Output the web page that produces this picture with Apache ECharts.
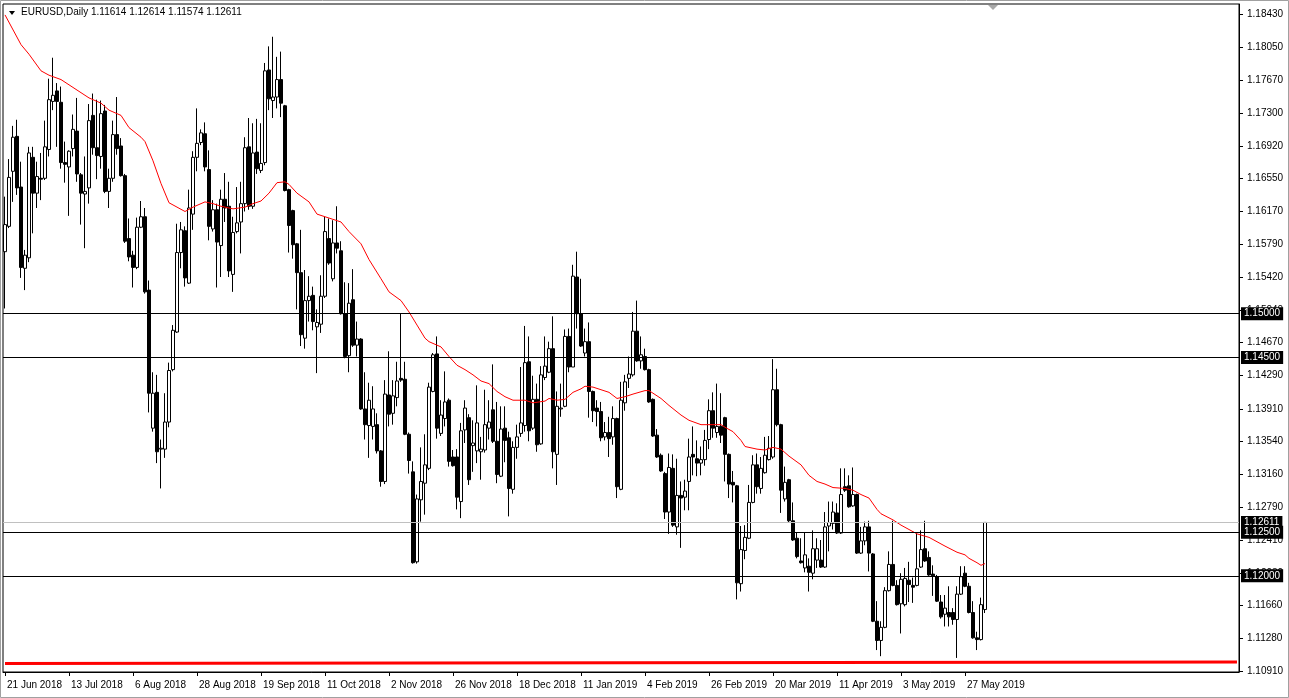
<!DOCTYPE html>
<html>
<head>
<meta charset="utf-8">
<script src="https://cdn.jsdelivr.net/npm/echarts@6/dist/echarts.min.js"></script>
<style>
html,body{margin:0;padding:0;background:#fff;}
#c{width:1289px;height:698px;}
</style>
</head>
<body>
<div id="c"></div>
<script>
// ---- data (EURUSD daily, 21 Jun 2018 .. 3 Jun 2019) ----
const opens = [
1.1571,1.1600,1.1663,1.1703,1.1645,1.1552,1.1564,1.1679,1.1638,1.1655,
1.1655,1.1688,1.1743,1.1755,1.1742,1.1673,1.1668,1.1689,1.1709,1.1659,
1.1637,1.1644,1.1727,1.1690,1.1680,1.1732,1.1640,1.1655,1.1705,1.1692,
1.1658,1.1586,1.1567,1.1553,1.1599,1.1611,1.1527,1.1369,1.1410,1.1345,
1.1345,1.1376,1.1436,1.1479,1.1570,1.1595,1.1535,1.1614,1.1679,1.1696,
1.1706,1.1665,1.1597,1.1619,1.1578,1.1631,1.1623,1.1545,1.1594,1.1605,
1.1626,1.1691,1.1623,1.1685,1.1664,1.1673,1.1779,1.1744,1.1748,1.1768,
1.1738,1.1642,1.1618,1.1580,1.1547,1.1472,1.1515,1.1521,1.1485,1.1488,
1.1520,1.1586,1.1540,1.1581,1.1572,1.1500,1.1452,1.1516,1.1464,1.1471,
1.1391,1.1372,1.1371,1.1373,1.1343,1.1308,1.1407,1.1386,1.1404,1.1426,
1.1425,1.1362,1.1319,1.1216,1.1287,1.1306,1.1323,1.1411,1.1454,1.1363,
1.1380,1.1401,1.1336,1.1336,1.1285,1.1367,1.1381,1.1349,1.1343,1.1342,
1.1344,1.1369,1.1390,1.1354,1.1314,1.1369,1.1358,1.1299,1.1347,1.1363,
1.1372,1.1445,1.1369,1.1402,1.1351,1.1427,1.1433,1.1460,1.1339,1.1391,
1.1394,1.1474,1.1439,1.1542,1.1500,1.1455,1.1468,1.1411,1.1392,1.1388,
1.1359,1.1364,1.1359,1.1380,1.1299,1.1398,1.1426,1.1430,1.1480,1.1446,
1.1451,1.1436,1.1402,1.1361,1.1338,1.1317,1.1273,1.1323,1.1256,1.1292,
1.1290,1.1308,1.1339,1.1334,1.1329,1.1333,1.1356,1.1389,1.1364,1.1371,
1.1381,1.1339,1.1307,1.1303,1.1191,1.1229,1.1243,1.1284,1.1327,1.1300,
1.1318,1.1333,1.1336,1.1413,1.1373,1.1288,1.1310,1.1263,1.1243,1.1217,
1.1209,1.1211,1.1203,1.1218,1.1218,1.1210,1.1257,1.1260,1.1272,1.1249,
1.1302,1.1303,1.1280,1.1293,1.1226,1.1240,1.1256,1.1225,1.1148,1.1126,
1.1141,1.1183,1.1213,1.1189,1.1168,1.1167,1.1195,1.1189,1.1189,1.1210,
1.1231,1.1221,1.1202,1.1199,1.1170,1.1156,1.1158,1.1158,1.1150,1.1179,
1.1203,1.1188,1.1158,1.1129,1.1127,1.11614
];
const highs = [
1.1634,1.1677,1.1715,1.1722,1.1674,1.1573,1.1691,1.1691,1.1674,1.1684,
1.1721,1.1769,1.1793,1.1764,1.1760,1.1697,1.1687,1.1728,1.1747,1.1661,
1.1680,1.1740,1.1752,1.1745,1.1744,1.1739,1.1666,1.1721,1.1748,1.1701,
1.1660,1.1609,1.1572,1.1610,1.1629,1.1621,1.1538,1.1433,1.1430,1.1356,
1.1409,1.1444,1.1487,1.1603,1.1605,1.1600,1.1642,1.1686,1.1735,1.1711,
1.1719,1.1687,1.1630,1.1626,1.1642,1.1661,1.1651,1.1611,1.1645,1.1651,
1.1702,1.1724,1.1718,1.1723,1.1718,1.1787,1.1806,1.1817,1.1794,1.1800,
1.1739,1.1643,1.1619,1.1581,1.1596,1.1550,1.1543,1.1531,1.1505,1.1544,
1.1611,1.1609,1.1607,1.1623,1.1583,1.1536,1.1535,1.1551,1.1491,1.1472,
1.1433,1.1421,1.1417,1.1386,1.1344,1.1424,1.1457,1.1424,1.1445,1.1500,
1.1445,1.1364,1.1331,1.1293,1.1347,1.1362,1.1421,1.1455,1.1474,1.1401,
1.1434,1.1403,1.1344,1.1345,1.1375,1.1401,1.1385,1.1378,1.1418,1.1359,
1.1413,1.1401,1.1442,1.1399,1.1394,1.1394,1.1365,1.1354,1.1373,1.1439,
1.1486,1.1474,1.1429,1.1420,1.1440,1.1474,1.1468,1.1497,1.1411,1.1420,
1.1482,1.1483,1.1556,1.1571,1.1540,1.1483,1.1490,1.1412,1.1401,1.1399,
1.1376,1.1382,1.1394,1.1381,1.1422,1.1430,1.1451,1.1502,1.1515,1.1474,
1.1460,1.1437,1.1403,1.1368,1.1340,1.1319,1.1340,1.1339,1.1334,1.1308,
1.1310,1.1357,1.1371,1.1355,1.1348,1.1367,1.1402,1.1410,1.1420,1.1409,
1.1382,1.1340,1.1320,1.1304,1.1257,1.1258,1.1304,1.1338,1.1340,1.1336,
1.1359,1.1360,1.1448,1.1437,1.1374,1.1325,1.1311,1.1284,1.1249,1.1243,
1.1249,1.1220,1.1252,1.1243,1.1241,1.1273,1.1285,1.1285,1.1283,1.1323,
1.1323,1.1315,1.1324,1.1294,1.1256,1.1262,1.1263,1.1226,1.1171,1.1148,
1.1187,1.1228,1.1263,1.1195,1.1203,1.1209,1.1216,1.1198,1.1249,1.1252,
1.1263,1.1228,1.1212,1.1201,1.1178,1.1178,1.1188,1.1163,1.1188,1.1211,
1.1211,1.1192,1.1171,1.1136,1.1175,1.12614
];
const lows = [
1.1506,1.1598,1.1628,1.1636,1.1541,1.1527,1.1559,1.1592,1.1621,1.1630,
1.1653,1.1680,1.1733,1.1691,1.1666,1.1650,1.1612,1.1680,1.1651,1.1602,
1.1575,1.1626,1.1682,1.1654,1.1666,1.1638,1.1621,1.1651,1.1682,1.1657,
1.1581,1.1560,1.1530,1.1551,1.1598,1.1523,1.1387,1.1365,1.1329,1.1300,
1.1335,1.1370,1.1434,1.1478,1.1552,1.1531,1.1534,1.1596,1.1663,1.1693,
1.1663,1.1584,1.1594,1.1530,1.1542,1.1605,1.1542,1.1525,1.1592,1.1569,
1.1617,1.1619,1.1620,1.1660,1.1661,1.1670,1.1733,1.1724,1.1735,1.1725,
1.1640,1.1570,1.1563,1.1505,1.1463,1.1460,1.1491,1.1481,1.1432,1.1478,
1.1518,1.1556,1.1537,1.1569,1.1499,1.1449,1.1433,1.1462,1.1451,1.1390,
1.1356,1.1335,1.1356,1.1340,1.1302,1.1305,1.1371,1.1373,1.1394,1.1422,
1.1361,1.1317,1.1214,1.1214,1.1262,1.1270,1.1321,1.1410,1.1357,1.1360,
1.1371,1.1325,1.1325,1.1276,1.1266,1.1352,1.1304,1.1319,1.1329,1.1310,
1.1341,1.1356,1.1352,1.1306,1.1313,1.1330,1.1268,1.1294,1.1334,1.1359,
1.1365,1.1354,1.1367,1.1342,1.1350,1.1424,1.1432,1.1323,1.1304,1.1382,
1.1393,1.1433,1.1439,1.1483,1.1462,1.1451,1.1381,1.1376,1.1371,1.1354,
1.1355,1.1336,1.1350,1.1289,1.1298,1.1389,1.1415,1.1428,1.1445,1.1437,
1.1435,1.1398,1.1359,1.1335,1.1319,1.1265,1.1248,1.1256,1.1247,1.1232,
1.1275,1.1275,1.1315,1.1314,1.1315,1.1326,1.1345,1.1358,1.1358,1.1352,
1.1308,1.1289,1.1284,1.1173,1.1182,1.1219,1.1242,1.1283,1.1294,1.1294,
1.1317,1.1332,1.1334,1.1371,1.1272,1.1285,1.1261,1.1240,1.1220,1.1214,
1.1204,1.1182,1.1196,1.1209,1.1209,1.1209,1.1228,1.1253,1.1248,1.1248,
1.1296,1.1278,1.1279,1.1225,1.1225,1.1235,1.1205,1.1147,1.1115,1.1108,
1.1140,1.1182,1.1188,1.1166,1.1134,1.1165,1.1170,1.1169,1.1188,1.1209,
1.1216,1.1200,1.1177,1.1170,1.1151,1.1142,1.1142,1.1144,1.1106,1.1178,
1.1187,1.1157,1.1128,1.1115,1.1126,1.11574
];
const closes = [
1.1602,1.1656,1.1702,1.1644,1.1553,1.1567,1.1684,1.1638,1.1657,1.1654,
1.1691,1.1745,1.1750,1.1743,1.1673,1.1671,1.1686,1.1711,1.1660,1.1638,
1.1640,1.1721,1.1690,1.1681,1.1729,1.1640,1.1655,1.1705,1.1689,1.1658,
1.1583,1.1565,1.1553,1.1599,1.1611,1.1525,1.1409,1.1409,1.1342,1.1346,
1.1376,1.1435,1.1481,1.1570,1.1596,1.1541,1.1621,1.1679,1.1695,1.1707,
1.1668,1.1600,1.1619,1.1582,1.1631,1.1621,1.1549,1.1593,1.1604,1.1626,
1.1690,1.1623,1.1684,1.1666,1.1672,1.1778,1.1746,1.1748,1.1768,1.1741,
1.1641,1.1601,1.1579,1.1547,1.1476,1.1515,1.1520,1.1491,1.1490,1.1520,
1.1594,1.1558,1.1581,1.1575,1.1500,1.1451,1.1512,1.1464,1.1471,1.1391,
1.1373,1.1401,1.1391,1.1343,1.1308,1.1408,1.1385,1.1406,1.1423,1.1424,
1.1362,1.1332,1.1215,1.1288,1.1308,1.1327,1.1416,1.1453,1.1369,1.1384,
1.1399,1.1331,1.1326,1.1290,1.1366,1.1392,1.1310,1.1352,1.1375,1.1345,
1.1373,1.1376,1.1354,1.1316,1.1368,1.1355,1.1300,1.1347,1.1359,1.1375,
1.1444,1.1366,1.1402,1.1350,1.1430,1.1440,1.1460,1.1342,1.1394,1.1392,
1.1474,1.1439,1.1543,1.1500,1.1463,1.1468,1.1411,1.1389,1.1388,1.1358,
1.1364,1.1357,1.1380,1.1302,1.1401,1.1422,1.1431,1.1480,1.1446,1.1453,
1.1436,1.1399,1.1360,1.1336,1.1320,1.1273,1.1324,1.1258,1.1292,1.1289,
1.1297,1.1336,1.1336,1.1329,1.1333,1.1355,1.1389,1.1369,1.1371,1.1361,
1.1339,1.1305,1.1304,1.1192,1.1230,1.1244,1.1284,1.1327,1.1302,1.1323,
1.1338,1.1346,1.1413,1.1373,1.1298,1.1307,1.1263,1.1241,1.1222,1.1215,
1.1224,1.1204,1.1231,1.1231,1.1210,1.1256,1.1261,1.1273,1.1249,1.1293,
1.1298,1.1279,1.1293,1.1226,1.1240,1.1256,1.1226,1.1148,1.1126,1.1141,
1.1183,1.1213,1.1189,1.1167,1.1196,1.1197,1.1190,1.1187,1.1208,1.1230,
1.1217,1.1201,1.1200,1.1171,1.1153,1.1163,1.1153,1.1150,1.1179,1.1199,
1.1188,1.1158,1.1129,1.1127,1.1167,1.12611
];
// red moving average, read at sample bars (bar index, price)
const maIdx = [0,4,6,9,11,14,16,19,21,24,26,29,31,34,35,37,39,41,45,47,50,52,54,57,60,62,64,66,68,70,71,73,76,78,80,84,86,89,91,94,96,99,101,103,105,106,109,111,113,115,117,119,121,123,125,127,130,132,135,136,138,140,142,144,145,147,149,151,153,155,157,160,161,162,164,166,169,171,174,176,179,180,182,184,185,188,190,192,194,196,199,201,203,205,207,210,212,214,216,218,219,222,224,226,228,231,235,238,240,241,243,244,245];
const maVal = [1.1842,1.1808,1.1797,1.1778,1.1773,1.1768,1.1762,1.1753,1.1747,1.1741,1.1733,1.1727,1.1713,1.1702,1.1697,1.1675,1.1649,1.1627,1.1617,1.1622,1.1628,1.1626,1.1623,1.1620,1.1622,1.1626,1.1629,1.1638,1.1650,1.1651,1.1648,1.1638,1.1628,1.1614,1.1611,1.1605,1.1594,1.1580,1.1562,1.1540,1.1525,1.1515,1.1502,1.1487,1.1472,1.1468,1.1462,1.1451,1.1441,1.1436,1.1430,1.1423,1.1420,1.1411,1.1405,1.1401,1.1401,1.1398,1.1400,1.1403,1.1401,1.1402,1.1410,1.1414,1.1417,1.1416,1.1413,1.1410,1.1403,1.1405,1.1408,1.1412,1.1412,1.1409,1.1403,1.1395,1.1384,1.1378,1.1373,1.1373,1.1373,1.1370,1.1365,1.1355,1.1348,1.1345,1.1344,1.1347,1.1345,1.1337,1.1327,1.1315,1.1308,1.1305,1.1301,1.1300,1.1298,1.1293,1.1289,1.1276,1.1271,1.1264,1.1258,1.1253,1.1248,1.1244,1.1234,1.1227,1.1224,1.1220,1.1215,1.1212,1.1214];
// horizontal levels and price-axis ticks
const levels = [1.15000, 1.14500, 1.12500, 1.12000];
const bidPrice = 1.12611;
const trendLine = [1.10996, 1.11013];
const yTicks = [1.18430,1.18050,1.17670,1.17300,1.16920,1.16550,1.16170,1.15790,1.15420,1.15040,1.14670,1.14290,1.13910,1.13540,1.13160,1.12790,1.12410,1.12030,1.11660,1.11280,1.10910];
const header = ['EURUSD,Daily', '1.11614 1.12614 1.11574 1.12611'];
const holidays = ['2018-12-25','2019-01-01'];
const labelEvery = 16;
const totalSlots = 309;

// trading-day categories
const MON = ['Jan','Feb','Mar','Apr','May','Jun','Jul','Aug','Sep','Oct','Nov','Dec'];
const categories = [];
(function(){
  const d = new Date(Date.UTC(2018,5,21));
  while (categories.length < opens.length) {
    const wd = d.getUTCDay(), iso = d.toISOString().slice(0,10);
    if (wd !== 0 && wd !== 6 && holidays.indexOf(iso) < 0)
      categories.push(d.getUTCDate()+' '+MON[d.getUTCMonth()]+' '+d.getUTCFullYear());
    d.setUTCDate(d.getUTCDate()+1);
  }
})();
const slots = categories.slice();
for (let i = categories.length; i < totalSlots; i++) slots.push('_' + i);

const FONT = '"Liberation Sans", Arial, sans-serif';
const candleData = opens.map((o,i)=>[o, closes[i], lows[i], highs[i]]);
const maData = maIdx.map((x,k)=>[x, maVal[k]]);
const showIdx = (i)=> i % labelEvery === 0 && i < categories.length;

function boxLabel(v){
  return {show:true, position:'end', distance:2, formatter: v.toFixed(5),
    color:'#fff', backgroundColor:'#000', padding:[2,3,1,3], fontSize:10, fontFamily:FONT};
}
const markData = [];
levels.slice(0,2).forEach(v=>markData.push({yAxis:v, lineStyle:{color:'#000',width:1,type:'solid'}, label:boxLabel(v)}));
markData.push({yAxis:bidPrice, lineStyle:{color:'#c0c0c0',width:1,type:'solid'}, label:boxLabel(bidPrice)});
levels.slice(2).forEach(v=>markData.push({yAxis:v, lineStyle:{color:'#000',width:1,type:'solid'}, label:boxLabel(v)}));
markData.push([
  {coord:[0, trendLine[0]], lineStyle:{color:'#ff0000',width:3,type:'solid'}, label:{show:false}},
  {coord:[totalSlots-1, trendLine[1]], lineStyle:{color:'#ff0000',width:3,type:'solid'}, label:{show:false}}
]);

const chart = echarts.init(document.getElementById('c'), null, {renderer:'canvas'});
chart.setOption({
  animation:false,
  backgroundColor:'#fff',
  textStyle:{fontFamily:FONT},
  grid:{left:3, top:4, width:1236, height:668, show:true, borderColor:'#000', borderWidth:1, backgroundColor:'#fff'},
  xAxis:{
    type:'category', data:slots, boundaryGap:true,
    axisLine:{show:true, lineStyle:{color:'#000', width:1}},
    axisTick:{show:true, alignWithLabel:true, interval:showIdx, length:4, lineStyle:{color:'#000'}},
    axisLabel:{interval:showIdx, align:'left', color:'#000', fontSize:10, fontFamily:FONT, margin:8, padding:[0,0,0,2]},
    splitLine:{show:false}
  },
  yAxis:{
    type:'value', position:'right', min:1.10899, max:1.18545, scale:true,
    splitLine:{show:false},
    axisLine:{show:true, lineStyle:{color:'#000', width:1}},
    axisTick:{show:true, customValues:yTicks, length:4, lineStyle:{color:'#000'}},
    axisLabel:{customValues:yTicks, formatter:(v)=>v.toFixed(5), color:'#000', fontSize:10, fontFamily:FONT, margin:8}
  },
  series:[
    {
      type:'candlestick', data:candleData, barWidth:3, z:2,
      itemStyle:{color:'#ffffff', color0:'#000000', borderColor:'#000000', borderColor0:'#000000', borderWidth:1},
      markLine:{symbol:['none','none'], precision:5, silent:true, animation:false, data:markData}
    },
    {
      type:'line', data:maData, showSymbol:false, symbol:'none', z:3,
      lineStyle:{color:'#ff0000', width:1}
    }
  ],
  graphic:[
    {type:'rect', shape:{x:0.5, y:0.5, width:1288, height:697}, style:{fill:null, stroke:'#a0a0a0', lineWidth:1}, silent:true},
    {type:'polygon', shape:{points:[[9,11],[15,11],[12,15]]}, style:{fill:'#000'}},
    {type:'text', left:21, top:7, style:{text:header[0], font:'10px '+FONT, fill:'#000'}},
    {type:'text', left:91, top:7, style:{text:header[1], font:'10px '+FONT, fill:'#000'}},
    {type:'polygon', shape:{points:[[988,5],[998,5],[993,10]]}, style:{fill:'#a8a8a8'}}
  ]
});
</script>
</body>
</html>
